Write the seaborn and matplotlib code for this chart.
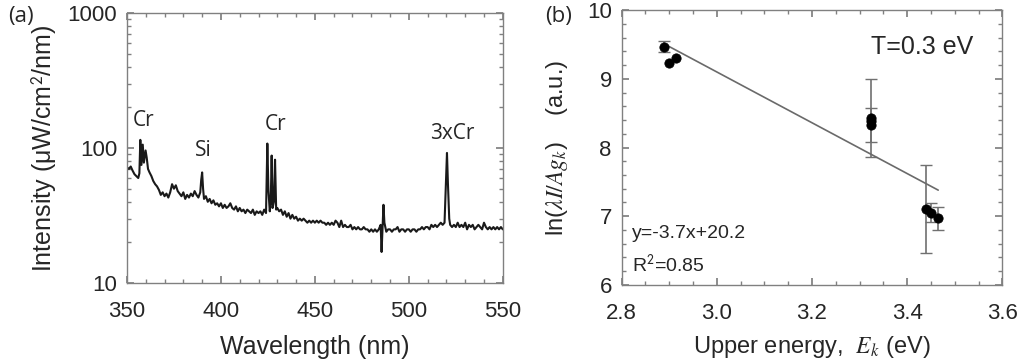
import numpy as np
import pandas as pd
import matplotlib
matplotlib.use('Agg')
import matplotlib.pyplot as plt
from matplotlib.ticker import MultipleLocator, LogLocator, NullFormatter
import seaborn as sns

# ---- (a) emission spectrum ----
wavelength = [350, 351, 352, 353, 354, 355, 356, 356.6, 357.1, 357.7, 358.4, 359.0, 359.9, 360.5, 361.2,
              362, 363, 364, 365, 366, 367, 368, 369, 370, 371, 372, 373, 374, 375, 376, 377, 378, 379,
              380, 381, 382, 383, 384, 385, 386, 387, 388, 389, 389.5, 390, 390.5, 391, 392, 393, 394,
              395, 396, 397, 398, 399, 400, 401, 402, 403, 404, 405, 406, 407, 408, 409, 410, 411, 412,
              413, 414, 415, 416, 417, 418, 419, 420, 421, 422, 423, 424, 424.7, 425.3, 426, 426.5, 427,
              427.5, 428.2, 428.8, 429.4, 430, 431, 432, 433, 434, 435, 436, 437, 438, 439, 440, 441, 442,
              443, 444, 445, 446, 447, 448, 449, 450, 451, 452, 453, 454, 455, 456, 457, 458, 459, 460,
              461, 462, 463, 464, 465, 466, 467, 468, 469, 470, 471, 472, 473, 474, 475, 476, 477, 478,
              479, 480, 481, 482, 483, 484, 485, 485.5, 486, 486.5, 487, 488, 489, 490, 491, 492, 493,
              494, 495, 496, 497, 498, 499, 500, 501, 502, 503, 504, 505, 506, 507, 508, 509, 510, 511,
              512, 513, 514, 515, 516, 517, 518, 519, 519.8, 520.3, 520.8, 521.5, 522, 523, 524, 525,
              526, 527, 528, 529, 530, 531, 532, 533, 534, 535, 536, 537, 538, 539, 540, 541, 542, 543,
              544, 545, 546, 547, 548, 549, 550]
intensity = [72, 70, 73, 68, 64, 62, 60, 65, 115, 75, 106, 78, 96, 85, 70,
             66, 62, 57, 54, 52, 49, 45, 47, 44, 46, 43, 47, 54, 50, 53, 48, 46, 44,
             47, 42, 45, 43, 46, 44, 48, 45, 43, 47, 58, 66, 50, 42, 44, 40, 42,
             39, 41, 38, 39, 37, 39, 36, 38, 36, 37, 39, 36, 35, 37, 34, 36, 34, 35,
             33, 35, 34, 33, 35, 32, 34, 33, 34, 32, 35, 33, 108, 48, 34, 40, 88,
             36, 40, 82, 35, 36, 34, 35, 32, 34, 31, 33, 30, 32, 30, 31, 29, 30,
             29, 30, 29, 28, 29, 28, 29, 28, 29, 28, 29, 28, 28, 27, 28, 27, 28, 27,
             29, 28, 26, 29, 26, 27, 26, 26, 27, 25, 26, 25, 26, 25, 25, 26, 25, 25,
             24, 25, 24, 25, 24, 25, 27, 17, 25, 38, 28, 24, 25, 25, 24, 25, 25,
             26, 24, 25, 25, 24, 25, 25, 24, 25, 25, 24, 25, 25, 26, 25, 26, 26, 25,
             27, 26, 27, 26, 27, 28, 27, 28, 60, 92, 55, 30, 27, 26, 27, 26,
             28, 26, 27, 26, 28, 25, 27, 26, 27, 25, 26, 27, 26, 25, 28, 26, 25, 26,
             25, 26, 25, 26, 25, 26, 25]
line_labels = ['Cr', 'Si', 'Cr', '3xCr']
label_x = [359, 390.4, 429.3, 523]
label_y = [160, 96, 150, 128]

# ---- (b) Boltzmann plot ----
energy = [2.889, 2.900, 2.914, 3.323, 3.323, 3.323, 3.439, 3.4505, 3.465]
ln_val = [9.466, 9.233, 9.296, 8.43, 8.39, 8.33, 7.102, 7.05, 6.97]
ln_err = [0.08, 0.0, 0.0, 0.57, 0.0, 0.25, 0.64, 0.14, 0.17]
fit_slope, fit_icpt = -3.7, 20.2
fit_range = [2.889, 3.465]

spec = pd.DataFrame({'wl': wavelength, 'I': intensity})
boltz = pd.DataFrame({'E': energy, 'y': ln_val, 'err': ln_err})

sns.set_theme(style="ticks")
plt.rcParams['font.family'] = ['Liberation Sans', 'DejaVu Sans']
plt.rcParams['mathtext.fontset'] = 'stix'
spine_col = '#808080'

fig = plt.figure(figsize=(10.24, 3.62), dpi=100)
ax1 = fig.add_axes([0.124, 0.218, 0.367, 0.746])
ax2 = fig.add_axes([0.607, 0.213, 0.372, 0.759])

# panel (a)
sns.lineplot(x='wl', y='I', data=spec, ax=ax1, color='#1a1a1a', lw=1.5, sort=False)
ax1.set_yscale('log')
ax1.set_xlim(350, 550)
ax1.set_ylim(10, 1000)
ax1.xaxis.set_major_locator(MultipleLocator(50))
ax1.xaxis.set_minor_locator(MultipleLocator(10))
ax1.yaxis.set_minor_locator(LogLocator(base=10, subs=np.arange(2, 10)))
ax1.yaxis.set_minor_formatter(NullFormatter())
ax1.set_yticks([10, 100, 1000])
ax1.set_yticklabels(['10', '100', '1000'])
ax1.set_xlabel('Wavelength (nm)', fontsize=18, labelpad=9)
ax1.set_ylabel('Intensity (\u03bcW/cm$^{\\mathsf{2}}$/nm)', fontsize=18, labelpad=6)
for t, x, y in zip(line_labels, label_x, label_y):
    ax1.text(x, y, t, ha='center', va='center', fontsize=15, family='Open Sans')

# panel (b)
for e, v, er in zip(energy, ln_val, ln_err):
    if er > 0:
        ax2.errorbar(e, v, yerr=er, fmt='none', ecolor='#707070', elinewidth=1.2,
                     capsize=4, capthick=1.0)
fx = np.array(fit_range)
ax2.plot(fx, fit_slope * fx + fit_icpt, color='#6a6a6a', lw=1.2)
sns.scatterplot(x='E', y='y', data=boltz, ax=ax2, color='black', s=45,
                edgecolor='black', zorder=5)
ax2.set_xlim(2.8, 3.6)
ax2.set_ylim(6, 10)
ax2.xaxis.set_major_locator(MultipleLocator(0.2))
ax2.xaxis.set_minor_locator(MultipleLocator(0.05))
ax2.yaxis.set_major_locator(MultipleLocator(1))
ax2.yaxis.set_minor_locator(MultipleLocator(0.2))
ax2.xaxis.set_major_formatter(matplotlib.ticker.FormatStrFormatter('%.1f'))
ax2.set_xlabel('Upper energy,  $E_k$ (eV)', fontsize=17, labelpad=7)
ax2.set_ylabel('ln($\\lambda I/Ag_k$)    (a.u.)', fontsize=17, labelpad=12)
ax2.text(3.432, 9.47, 'T=0.3 eV', ha='center', va='center', fontsize=18)
ax2.text(2.821, 6.75, 'y=-3.7x+20.2', ha='left', va='center', fontsize=14)
ax2.text(2.821, 6.29, 'R$^{\\mathsf{2}}$=0.85', ha='left', va='center', fontsize=14)

for ax in (ax1, ax2):
    for s in ax.spines.values():
        s.set_color(spine_col)
        s.set_linewidth(1.0)
    ax.tick_params(which='both', direction='in', top=True, right=True, color=spine_col,
                   labelsize=16)
    ax.tick_params(axis='x', pad=13)
    ax.tick_params(axis='y', pad=7)
    ax.tick_params(which='major', length=5)
    ax.tick_params(which='minor', length=3)

fig.text(0.008, 0.955, '(a)', fontsize=16, family='Open Sans', va='center')
fig.text(0.532, 0.955, '(b)', fontsize=16, family='Open Sans', va='center')

fig.savefig('out.png', dpi=100)
